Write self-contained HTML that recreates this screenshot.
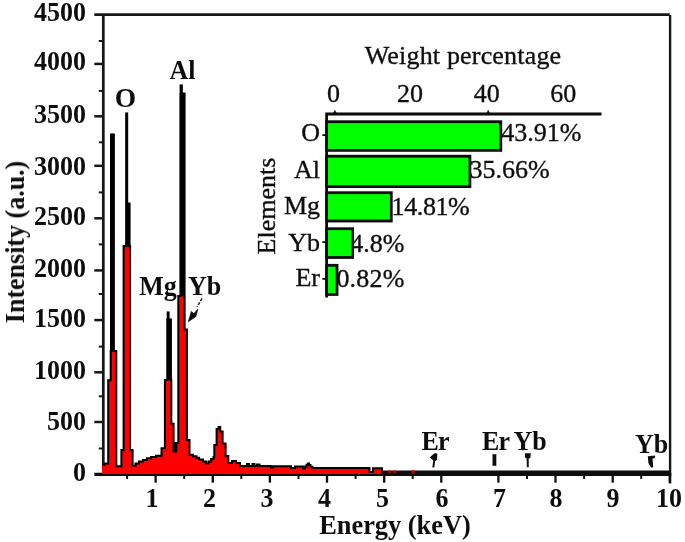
<!DOCTYPE html>
<html lang="en"><head><meta charset="utf-8"><title>EDS spectrum</title>
<style>html,body{margin:0;padding:0;background:#fff}svg{display:block}text{font-family:"Liberation Serif","Times New Roman",serif;font-size:26px;fill:#111;stroke:#111;stroke-width:0.35px}.b{font-weight:bold;stroke:none;font-size:27.5px}</style></head><body>
<svg width="685" height="542" viewBox="0 0 685 542">
<defs><filter id="soft" x="0" y="0" width="685" height="542" filterUnits="userSpaceOnUse"><feGaussianBlur stdDeviation="0.55"/></filter></defs>
<rect width="685" height="542" fill="#fff"/>
<g filter="url(#soft)">
<g stroke="#181818" stroke-width="2.7" fill="none" stroke-linecap="butt">
<path d="M103.3 474.1 V14.6 M94.3 14.6 H669.8 "/>
<path d="M670.1 15.0 V483.5" stroke="#181818" stroke-width="2.4" fill="none"/>
<path d="M94.3 63.9 H103.3" stroke-width="2.5"/>
<path d="M94.3 116.3 H103.3" stroke-width="2.5"/>
<path d="M94.3 165.8 H103.3" stroke-width="2.5"/>
<path d="M94.3 218.3 H103.3" stroke-width="2.5"/>
<path d="M94.3 270.4 H103.3" stroke-width="2.5"/>
<path d="M94.3 320.1 H103.3" stroke-width="2.5"/>
<path d="M94.3 372.3 H103.3" stroke-width="2.5"/>
<path d="M94.3 422.0 H103.3" stroke-width="2.5"/>
<path d="M98.8 41.0 H103.3" stroke-width="2"/>
<path d="M98.8 90.9 H103.3" stroke-width="2"/>
<path d="M98.8 142.3 H103.3" stroke-width="2"/>
<path d="M98.8 192.4 H103.3" stroke-width="2"/>
<path d="M98.8 244.4 H103.3" stroke-width="2"/>
<path d="M98.8 294.0 H103.3" stroke-width="2"/>
<path d="M98.8 346.6 H103.3" stroke-width="2"/>
<path d="M98.8 396.3 H103.3" stroke-width="2"/>
<path d="M98.8 448.5 H103.3" stroke-width="2"/>
</g>
<text class="b" transform="translate(86.0 21.1) scale(0.945 1)" text-anchor="end">4500</text>
<text class="b" transform="translate(86.0 69.9) scale(0.945 1)" text-anchor="end">4000</text>
<text class="b" transform="translate(86.0 122.8) scale(0.945 1)" text-anchor="end">3500</text>
<text class="b" transform="translate(86.0 175.0) scale(0.945 1)" text-anchor="end">3000</text>
<text class="b" transform="translate(86.0 224.9) scale(0.945 1)" text-anchor="end">2500</text>
<text class="b" transform="translate(86.0 277.3) scale(0.945 1)" text-anchor="end">2000</text>
<text class="b" transform="translate(86.0 326.6) scale(0.945 1)" text-anchor="end">1500</text>
<text class="b" transform="translate(86.0 379.1) scale(0.945 1)" text-anchor="end">1000</text>
<text class="b" transform="translate(86.0 429.5) scale(0.945 1)" text-anchor="end">500</text>
<text class="b" transform="translate(86.0 481.0) scale(0.945 1)" text-anchor="end">0</text>
<text x="501.3" y="141.3" letter-spacing="0">43.91%</text>
<text x="469.6" y="178.0" letter-spacing="0">35.66%</text>
<text x="391.6" y="214.8" letter-spacing="-0.4">14.81%</text>
<text x="350.2" y="251.8" letter-spacing="0">4.8%</text>
<text x="336.4" y="286.9" letter-spacing="0.2">0.82%</text>
<rect x="326.6" y="121.70" width="174.2" height="28.70" fill="#00ff00" stroke="#0a0a0a" stroke-width="2.8"/>
<rect x="326.6" y="156.20" width="143.3" height="30.40" fill="#00ff00" stroke="#0a0a0a" stroke-width="2.8"/>
<rect x="326.6" y="192.70" width="64.7" height="28.30" fill="#00ff00" stroke="#0a0a0a" stroke-width="2.8"/>
<rect x="326.6" y="228.70" width="26.0" height="28.80" fill="#00ff00" stroke="#0a0a0a" stroke-width="2.8"/>
<rect x="326.6" y="265.30" width="10.4" height="29.20" fill="#00ff00" stroke="#0a0a0a" stroke-width="2.8"/>
<g stroke="#0a0a0a" stroke-width="2.8" fill="none">
<path d="M326.6 297.6 V114.0 M325.3 114.0 H601.5"/>
</g>
<path d="M333.3 113.0 L334.9 109.8 L336.5 113.0 Z" fill="#0a0a0a"/>
<path d="M486.6 113.0 L488.2 109.8 L489.8 113.0 Z" fill="#0a0a0a"/>
<path d="M322.40000000000003 135.1 H326.6" stroke="#0a0a0a" stroke-width="1.8"/>
<path d="M322.40000000000003 242.1 H326.6" stroke="#0a0a0a" stroke-width="1.8"/>
<path d="M322.40000000000003 278.9 H326.6" stroke="#0a0a0a" stroke-width="1.8"/>
<text x="320" y="141.4" text-anchor="end">O</text>
<text x="320" y="177.9" text-anchor="end">Al</text>
<text x="320" y="213.5" text-anchor="end">Mg</text>
<text x="320" y="250.8" text-anchor="end">Yb</text>
<text x="320" y="286.0" text-anchor="end">Er</text>
<text x="333.4" y="102" text-anchor="middle">0</text>
<text x="410.0" y="102" text-anchor="middle">20</text>
<text x="486.7" y="102" text-anchor="middle">40</text>
<text x="563.3" y="102" text-anchor="middle">60</text>
<text x="463" y="64.4" text-anchor="middle" letter-spacing="0.18">Weight percentage</text>
<text transform="translate(274.8 206) rotate(-90)" text-anchor="middle">Elements</text>
<path d="M94.3 474.3 H671.3" stroke="#0c0c0c" stroke-width="3.2" fill="none"/>
<path d="M102.0 464.8 L104.6 464.8 L104.6 463.4 L108.2 463.4 L108.2 380.3 L110.7 380.3 L110.7 351.0 L111.2 351.0 L111.2 134.5 L113.6 134.5 L113.6 351.0 L116.3 351.0 L116.3 466.2 L121.4 466.2 L121.4 450.0 L123.6 450.0 L123.6 246.0 L126.2 246.0 L126.2 113.5 L127.2 113.5 L127.2 203.5 L129.4 203.5 L129.4 246.0 L130.1 246.0 L130.1 450.0 L132.6 450.0 L132.6 465.8 L135.5 465.8 L135.5 463.4 L139.0 463.4 L139.0 461.5 L143.0 461.5 L143.0 460.0 L147.0 460.0 L147.0 458.2 L151.0 458.2 L151.0 457.0 L156.0 457.0 L156.0 455.8 L161.5 455.8 L161.5 448.2 L162.5 448.2 L164.9 448.2 L164.9 380.0 L167.4 380.0 L167.4 319.5 L167.7 319.5 L167.7 312.5 L168.5 312.5 L168.5 319.5 L170.8 319.5 L170.8 380.0 L171.3 380.0 L171.3 423.8 L173.6 423.8 L173.6 443.0 L175.6 443.0 L175.6 450.5 L176.4 450.5 L176.4 443.0 L178.3 443.0 L178.3 296.0 L180.6 296.0 L180.6 85.5 L181.8 85.5 L181.8 93.5 L184.4 93.5 L184.4 296.0 L184.4 329.5 L186.9 329.5 L186.9 440.0 L189.5 440.0 L189.5 454.8 L193.0 454.8 L193.0 456.2 L196.5 456.2 L196.5 457.8 L199.0 457.8 L199.0 459.5 L203.0 459.5 L203.0 461.5 L206.0 461.5 L206.0 463.5 L208.5 463.5 L208.5 461.5 L211.0 461.5 L211.0 459.0 L213.5 459.0 L213.5 457.0 L214.3 457.0 L214.3 445.0 L216.6 445.0 L216.6 429.0 L218.6 429.0 L218.6 427.0 L220.2 427.0 L220.2 431.5 L222.6 431.5 L222.6 443.5 L225.6 443.5 L225.6 456.0 L228.3 456.0 L228.3 463.0 L232.0 463.0 L232.0 461.0 L236.0 461.0 L236.0 463.0 L240.0 463.0 L240.0 466.0 L247.0 466.0 L247.0 464.0 L249.0 464.0 L249.0 466.0 L252.5 466.0 L252.5 464.0 L254.5 464.0 L254.5 466.0 L257.0 466.0 L257.0 464.4 L259.5 464.4 L259.5 466.0 L271.0 466.0 L271.0 467.8 L273.0 467.8 L273.0 466.2 L291.0 466.2 L291.0 468.0 L295.0 468.0 L295.0 466.6 L303.0 466.6 L303.0 468.6 L305.0 468.6 L305.0 466.5 L306.5 466.5 L306.5 464.8 L308.0 464.8 L308.0 463.6 L309.0 463.6 L309.0 465.0 L310.5 465.0 L310.5 466.8 L312.5 466.8 L312.5 468.0 L369.5 468.0 L369.5 472.0 L373.0 472.0 L373.0 468.2 L382.0 468.2 L382.0 471.8 L382 474 L102 474 Z" fill="#ff0000"/>
<path d="M102.0 464.8 L104.6 464.8 L104.6 463.4 L108.2 463.4 L108.2 380.3 L110.7 380.3 L110.7 351.0 L111.2 351.0 L111.2 134.5 L113.6 134.5 L113.6 351.0 L116.3 351.0 L116.3 466.2 L121.4 466.2 L121.4 450.0 L123.6 450.0 L123.6 246.0 L126.2 246.0 L126.2 113.5 L127.2 113.5 L127.2 203.5 L129.4 203.5 L129.4 246.0 L130.1 246.0 L130.1 450.0 L132.6 450.0 L132.6 465.8 L135.5 465.8 L135.5 463.4 L139.0 463.4 L139.0 461.5 L143.0 461.5 L143.0 460.0 L147.0 460.0 L147.0 458.2 L151.0 458.2 L151.0 457.0 L156.0 457.0 L156.0 455.8 L161.5 455.8 L161.5 448.2 L162.5 448.2 L164.9 448.2 L164.9 380.0 L167.4 380.0 L167.4 319.5 L167.7 319.5 L167.7 312.5 L168.5 312.5 L168.5 319.5 L170.8 319.5 L170.8 380.0 L171.3 380.0 L171.3 423.8 L173.6 423.8 L173.6 443.0 L175.6 443.0 L175.6 450.5 L176.4 450.5 L176.4 443.0 L178.3 443.0 L178.3 296.0 L180.6 296.0 L180.6 85.5 L181.8 85.5 L181.8 93.5 L184.4 93.5 L184.4 296.0 L184.4 329.5 L186.9 329.5 L186.9 440.0 L189.5 440.0 L189.5 454.8 L193.0 454.8 L193.0 456.2 L196.5 456.2 L196.5 457.8 L199.0 457.8 L199.0 459.5 L203.0 459.5 L203.0 461.5 L206.0 461.5 L206.0 463.5 L208.5 463.5 L208.5 461.5 L211.0 461.5 L211.0 459.0 L213.5 459.0 L213.5 457.0 L214.3 457.0 L214.3 445.0 L216.6 445.0 L216.6 429.0 L218.6 429.0 L218.6 427.0 L220.2 427.0 L220.2 431.5 L222.6 431.5 L222.6 443.5 L225.6 443.5 L225.6 456.0 L228.3 456.0 L228.3 463.0 L232.0 463.0 L232.0 461.0 L236.0 461.0 L236.0 463.0 L240.0 463.0 L240.0 466.0 L247.0 466.0 L247.0 464.0 L249.0 464.0 L249.0 466.0 L252.5 466.0 L252.5 464.0 L254.5 464.0 L254.5 466.0 L257.0 466.0 L257.0 464.4 L259.5 464.4 L259.5 466.0 L271.0 466.0 L271.0 467.8 L273.0 467.8 L273.0 466.2 L291.0 466.2 L291.0 468.0 L295.0 468.0 L295.0 466.6 L303.0 466.6 L303.0 468.6 L305.0 468.6 L305.0 466.5 L306.5 466.5 L306.5 464.8 L308.0 464.8 L308.0 463.6 L309.0 463.6 L309.0 465.0 L310.5 465.0 L310.5 466.8 L312.5 466.8 L312.5 468.0 L369.5 468.0 L369.5 472.0 L373.0 472.0 L373.0 468.2 L382.0 468.2 L382.0 471.8 L669.0 471.8" fill="none" stroke="#000" stroke-width="2" stroke-linejoin="miter"/>
<g fill="#000"><rect x="110.1" y="133.8" width="4.6" height="217.4"/><rect x="125.8" y="112.8" width="2.1" height="134"/><rect x="125.8" y="203" width="4.5" height="43.5"/><rect x="180.4" y="84.8" width="1.9" height="10"/><rect x="179.7" y="93" width="5.6" height="203.2"/><rect x="183.3" y="296" width="2.1" height="34"/><rect x="172.4" y="442" width="4.6" height="10.5"/><rect x="167" y="311.8" width="2.2" height="8"/><rect x="166.6" y="318.8" width="5" height="61.4"/></g>
<rect x="381" y="470.7" width="289" height="5.2" fill="#0a0a0a"/>
<g fill="#e00000"><rect x="388.3" y="470.2" width="2.2" height="2.8"/><rect x="393.6" y="470.2" width="2.2" height="2.8"/><rect x="411.8" y="470" width="2.6" height="3"/></g>
<g stroke="#111" fill="none">
<path d="M155.6 474.1 v8.6" stroke-width="2.3"/>
<path d="M212.8 474.1 v8.6" stroke-width="2.3"/>
<path d="M269.9 474.1 v8.6" stroke-width="2.3"/>
<path d="M327.0 474.1 v8.6" stroke-width="2.3"/>
<path d="M384.2 474.1 v8.6" stroke-width="2.3"/>
<path d="M441.3 474.1 v8.6" stroke-width="2.3"/>
<path d="M498.4 474.1 v8.6" stroke-width="2.3"/>
<path d="M555.5 474.1 v8.6" stroke-width="2.3"/>
<path d="M612.7 474.1 v8.6" stroke-width="2.3"/>
<path d="M669.8 474.1 v8.6" stroke-width="2.3"/>
<path d="M127.1 474.1 v4.8" stroke-width="2"/>
<path d="M184.2 474.1 v4.8" stroke-width="2"/>
<path d="M241.3 474.1 v4.8" stroke-width="2"/>
<path d="M298.5 474.1 v4.8" stroke-width="2"/>
<path d="M355.6 474.1 v4.8" stroke-width="2"/>
<path d="M412.7 474.1 v4.8" stroke-width="2"/>
<path d="M527.0 474.1 v4.8" stroke-width="2"/>
<path d="M584.1 474.1 v4.8" stroke-width="2"/>
<path d="M641.2 474.1 v4.8" stroke-width="2"/>
</g>
<text class="b" transform="translate(151.9 507.2) scale(0.945 1)" text-anchor="middle">1</text>
<text class="b" transform="translate(209.5 507.2) scale(0.945 1)" text-anchor="middle">2</text>
<text class="b" transform="translate(267.1 507.2) scale(0.945 1)" text-anchor="middle">3</text>
<text class="b" transform="translate(324.6 507.2) scale(0.945 1)" text-anchor="middle">4</text>
<text class="b" transform="translate(382.4 507.2) scale(0.945 1)" text-anchor="middle">5</text>
<text class="b" transform="translate(442.1 507.2) scale(0.945 1)" text-anchor="middle">6</text>
<text class="b" transform="translate(499.6 507.2) scale(0.945 1)" text-anchor="middle">7</text>
<text class="b" transform="translate(556.1 507.2) scale(0.945 1)" text-anchor="middle">8</text>
<text class="b" transform="translate(613.0 507.2) scale(0.945 1)" text-anchor="middle">9</text>
<text class="b" transform="translate(669.0 507.2) scale(0.945 1)" text-anchor="middle">10</text>
<text class="b" transform="translate(395.0 533.8) scale(0.96 1)" text-anchor="middle">Energy (keV)</text>
<text class="b" transform="translate(24.0 242.0) rotate(-90) scale(0.945 1)" text-anchor="middle">Intensity (a.u.)</text>
<text class="b" transform="translate(125.4 107.3) scale(1.0 1)" text-anchor="middle" font-size="28.5">O</text>
<text class="b" transform="translate(182.6 78.5) scale(0.945 1)" text-anchor="middle">Al</text>
<text class="b" transform="translate(158.0 295.4) scale(0.945 1)" text-anchor="middle">Mg</text>
<text class="b" transform="translate(204.5 295.4) scale(0.945 1)" text-anchor="middle">Yb</text>
<text class="b" transform="translate(435.2 449.7) scale(0.945 1)" text-anchor="middle" letter-spacing="-0.8">Er</text>
<text class="b" transform="translate(495.7 449.7) scale(0.945 1)" text-anchor="middle" letter-spacing="-0.8">Er</text>
<text class="b" transform="translate(530.0 449.5) scale(0.945 1)" text-anchor="middle">Yb</text>
<text class="b" transform="translate(651.5 452.5) scale(0.945 1)" text-anchor="middle">Yb</text>
<g stroke="#111" fill="#111" stroke-linecap="butt">
<path d="M202 298.5 L197 307" stroke-width="1.4" stroke-dasharray="3 1.5" fill="none"/>
<path d="M188.4 321.6 L191.4 311.5 L193.8 313.8 L197.8 309.2 L195.8 316.6 Z" stroke-width="0.8"/>
<path d="M429.6 457.6 L434.4 453.2 L437.4 453.4 L436.9 460 L435.2 461 L434.3 467.6 L432.3 467.6 L433.3 460.6 Z" stroke="none"/>
<path d="M494.4 454.2 V465.8" stroke-width="3.8" fill="none"/>
<path d="M524.8 453.2 h6 l-0.4 4.6 l-1.7 1 l0.1 8.4 h-2 l-0.1 -8.6 l-1.6 -1 z" stroke="none"/>
<path d="M647.8 456.2 L655.2 455.6 L654.7 458.2 L652.6 458.6 L653.2 467.6 L651 467.6 L648.4 463 Z" stroke="none"/>
</g>
</g>
</svg></body></html>
